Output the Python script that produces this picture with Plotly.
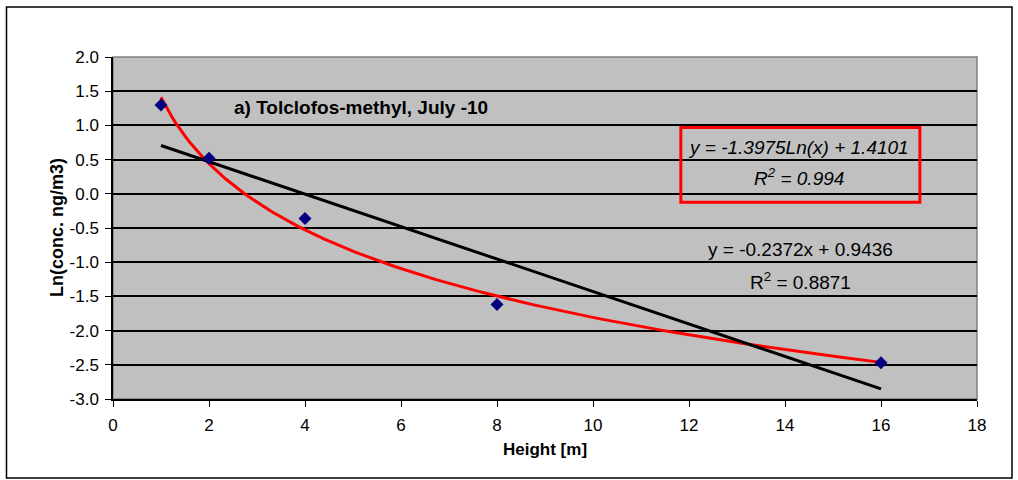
import numpy as np
import plotly.graph_objects as go

# Data
heights = [1, 2, 4, 8, 16]
ln_conc = [1.30, 0.52, -0.36, -1.62, -2.47]

# Trendline coefficients (as printed on the chart)
log_a, log_b, log_r2 = -1.3975, 1.4101, 0.994
lin_a, lin_b, lin_r2 = -0.2372, 0.9436, 0.8871

x_ticks = [0, 2, 4, 6, 8, 10, 12, 14, 16, 18]
y_ticks = [2.0, 1.5, 1.0, 0.5, 0.0, -0.5, -1.0, -1.5, -2.0, -2.5, -3.0]

title_text = "a) Tolclofos-methyl, July -10"
x_title = "Height [m]"
y_title = "Ln(conc. ng/m3)"

FONT = "Liberation Sans, Arial, sans-serif"

xs = np.linspace(min(heights), max(heights), 200)
log_fit = log_a * np.log(xs) + log_b
lin_x = np.array([min(heights), max(heights)])
lin_fit = lin_a * lin_x + lin_b

fig = go.Figure()
fig.add_trace(go.Scatter(x=xs, y=log_fit, mode="lines",
                         line=dict(color="#FF0000", width=3), showlegend=False))
fig.add_trace(go.Scatter(x=lin_x, y=lin_fit, mode="lines",
                         line=dict(color="#000000", width=3), showlegend=False))
fig.add_trace(go.Scatter(x=heights, y=ln_conc, mode="markers",
                         marker=dict(symbol="diamond", size=10, color="#000080"),
                         showlegend=False))

W, H = 1018, 480
L, R, T, B = 113, 41, 57, 81
pw, ph = W - L - R, H - T - B

def px(xp):
    return (xp - L) / pw

def py(yp):
    return 1 - (yp - T) / ph

shapes = [
    # outer chart border
    dict(type="rect", xref="paper", yref="paper",
         x0=px(6.5), x1=px(1012), y0=py(7), y1=py(478),
         line=dict(color="#000000", width=1.5), fillcolor="rgba(0,0,0,0)", layer="below"),
    # plot area border (gray)
    dict(type="rect", xref="paper", yref="paper", x0=0, x1=1, y0=0, y1=1,
         line=dict(color="#808080", width=1.5), fillcolor="rgba(0,0,0,0)", layer="below"),
    # red equation box
    dict(type="rect", xref="x", yref="y", x0=11.83, x1=16.81, y0=-0.124, y1=0.969,
         line=dict(color="#FF0000", width=3), fillcolor="rgba(0,0,0,0)"),
]

annotations = [
    dict(x=5.17, y=1.26, xref="x", yref="y", text=f"<b>{title_text}</b>",
         showarrow=False, font=dict(family=FONT, size=19, color="#000000")),
    dict(x=14.29, y=0.677, xref="x", yref="y",
         text=f"<i>y = {log_a:.4f}Ln(x) + {log_b:.4f}</i>",
         showarrow=False, font=dict(family=FONT, size=19, color="#000000")),
    dict(x=14.29, y=0.24, xref="x", yref="y",
         text=f"<i>R<sup>2</sup> = {log_r2:.3f}</i>",
         showarrow=False, font=dict(family=FONT, size=19, color="#000000")),
    dict(x=14.33, y=-0.81, xref="x", yref="y",
         text=f"y = {lin_a:.4f}x + {lin_b:.4f}",
         showarrow=False, font=dict(family=FONT, size=19, color="#000000")),
    dict(x=14.33, y=-1.275, xref="x", yref="y",
         text=f"R<sup>2</sup> = {lin_r2:.4f}",
         showarrow=False, font=dict(family=FONT, size=19, color="#000000")),
    # axis titles
    dict(x=px(545), y=py(461), xref="paper", yref="paper", text=f"<b>{x_title}</b>",
         showarrow=False, font=dict(family=FONT, size=17, color="#000000")),
    dict(x=px(45), y=py(228), xref="paper", yref="paper", text=f"<b>{y_title}</b>",
         textangle=-90, showarrow=False, font=dict(family=FONT, size=18, color="#000000")),
]

fig.update_layout(
    width=W, height=H,
    margin=dict(l=L, r=R, t=T, b=B, pad=0),
    paper_bgcolor="#FFFFFF",
    plot_bgcolor="#C0C0C0",
    font=dict(family=FONT, size=17, color="#000000"),
    shapes=shapes,
    annotations=annotations,
    xaxis=dict(range=[0, 18], tickvals=x_ticks, ticktext=[str(t) for t in x_ticks],
               showgrid=False, zeroline=False,
               showline=True, linecolor="#000000", linewidth=1.5,
               ticks="outside", ticklen=6, tickcolor="#000000", tickwidth=1,
               ticklabelstandoff=4,
               tickfont=dict(family=FONT, size=17)),
    yaxis=dict(range=[-3.0, 2.0], tickvals=y_ticks, ticktext=[f"{t:.1f}" for t in y_ticks],
               showgrid=True, gridcolor="#000000", gridwidth=1.5, zeroline=False,
               showline=True, linecolor="#000000", linewidth=1.5,
               ticks="outside", ticklen=6, tickcolor="#000000", tickwidth=1,
               ticklabelstandoff=3,
               tickfont=dict(family=FONT, size=17)),
)

fig.write_html("out.html")
